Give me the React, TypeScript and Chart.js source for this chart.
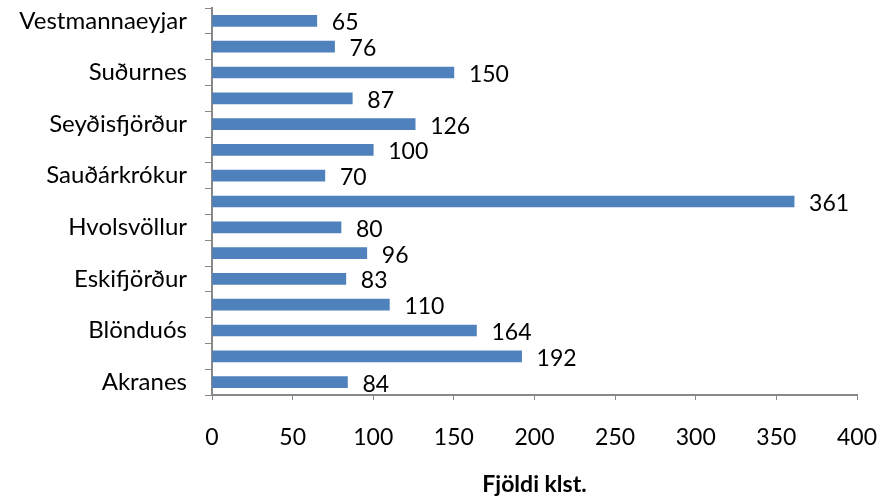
import React, { useEffect, useRef } from "react";
import { Chart, registerables } from "chart.js";

Chart.register(...registerables);

const categories = [
  "Akranes",
  "Akureyri",
  "Blönduós",
  "Borgarnes",
  "Eskifjörður",
  "Húsavík",
  "Hvolsvöllur",
  "Höfuðborgarsvæðið",
  "Sauðárkrókur",
  "Selfoss",
  "Seyðisfjörður",
  "Snæfellsnes",
  "Suðurnes",
  "Vestfirðir",
  "Vestmannaeyjar",
];
const hours = [84, 192, 164, 110, 83, 96, 80, 361, 70, 100, 126, 87, 150, 76, 65];
const xTicks = [0, 50, 100, 150, 200, 250, 300, 350, 400];
const axisTitle = "Fjöldi klst.";

const FONT = "Lato, 'Open Sans', sans-serif";

const valueLabels = {
  id: "valueLabels",
  afterDatasetsDraw(chart: any) {
    const ctx = chart.ctx;
    const meta = chart.getDatasetMeta(0);
    ctx.save();
    ctx.font = `23px ${FONT}`;
    ctx.fillStyle = "#000";
    ctx.textAlign = "left";
    ctx.textBaseline = "middle";
    meta.data.forEach((bar: any, i: number) => {
      ctx.fillText(String(hours[i]), bar.x + 15, bar.y + 2);
    });
    ctx.restore();
  },
};

export default function App() {
  const ref = useRef<HTMLCanvasElement>(null);
  useEffect(() => {
    document.body.style.margin = "0";
    const chart = new Chart(ref.current!, {
      type: "bar",
      data: {
        labels: categories,
        datasets: [
          {
            data: hours,
            backgroundColor: "#4F81BD",
            borderWidth: 0,
            barThickness: 11,
          },
        ],
      },
      options: {
        indexAxis: "y",
        responsive: false,
        animation: false,
        layout: { padding: { top: 8, right: 24, bottom: 0, left: 0 } },
        plugins: { legend: { display: false }, tooltip: { enabled: false } },
        scales: {
          x: {
            min: 0,
            max: 400,
            afterBuildTicks(axis: any) {
              axis.ticks = xTicks.map((v) => ({ value: v }));
            },
            afterFit(axis: any) {
              axis.height = 107;
              axis.paddingLeft = 0;
              axis.paddingRight = 0;
            },
            grid: {
              drawOnChartArea: false,
              drawTicks: true,
              tickLength: 5,
              color: "#888",
            },
            border: { color: "#888", width: 2 },
            ticks: {
              color: "#000",
              font: { family: FONT, size: 23 },
              padding: 24,
            },
            title: {
              display: true,
              text: axisTitle,
              color: "#000",
              font: { family: FONT, size: 23, weight: "bold" },
              padding: { top: 10, bottom: 4 },
            },
          },
          y: {
            reverse: true,
            afterFit(axis: any) {
              axis.width = 212;
              axis.paddingTop = 0;
              axis.paddingBottom = 0;
            },
            grid: {
              offset: true,
              drawOnChartArea: false,
              drawTicks: true,
              tickLength: 7,
              color: "#888",
            },
            border: { color: "#888", width: 2 },
            ticks: {
              autoSkip: false,
              color: "#000",
              font: { family: FONT, size: 24 },
              padding: 18,
              callback: (_v: any, i: number) => (i % 2 === 0 ? categories[i] : ""),
            },
          },
        },
      },
      plugins: [valueLabels],
    });
    return () => chart.destroy();
  }, []);
  return <canvas ref={ref} width={881} height={502} style={{ display: "block" }} />;
}
